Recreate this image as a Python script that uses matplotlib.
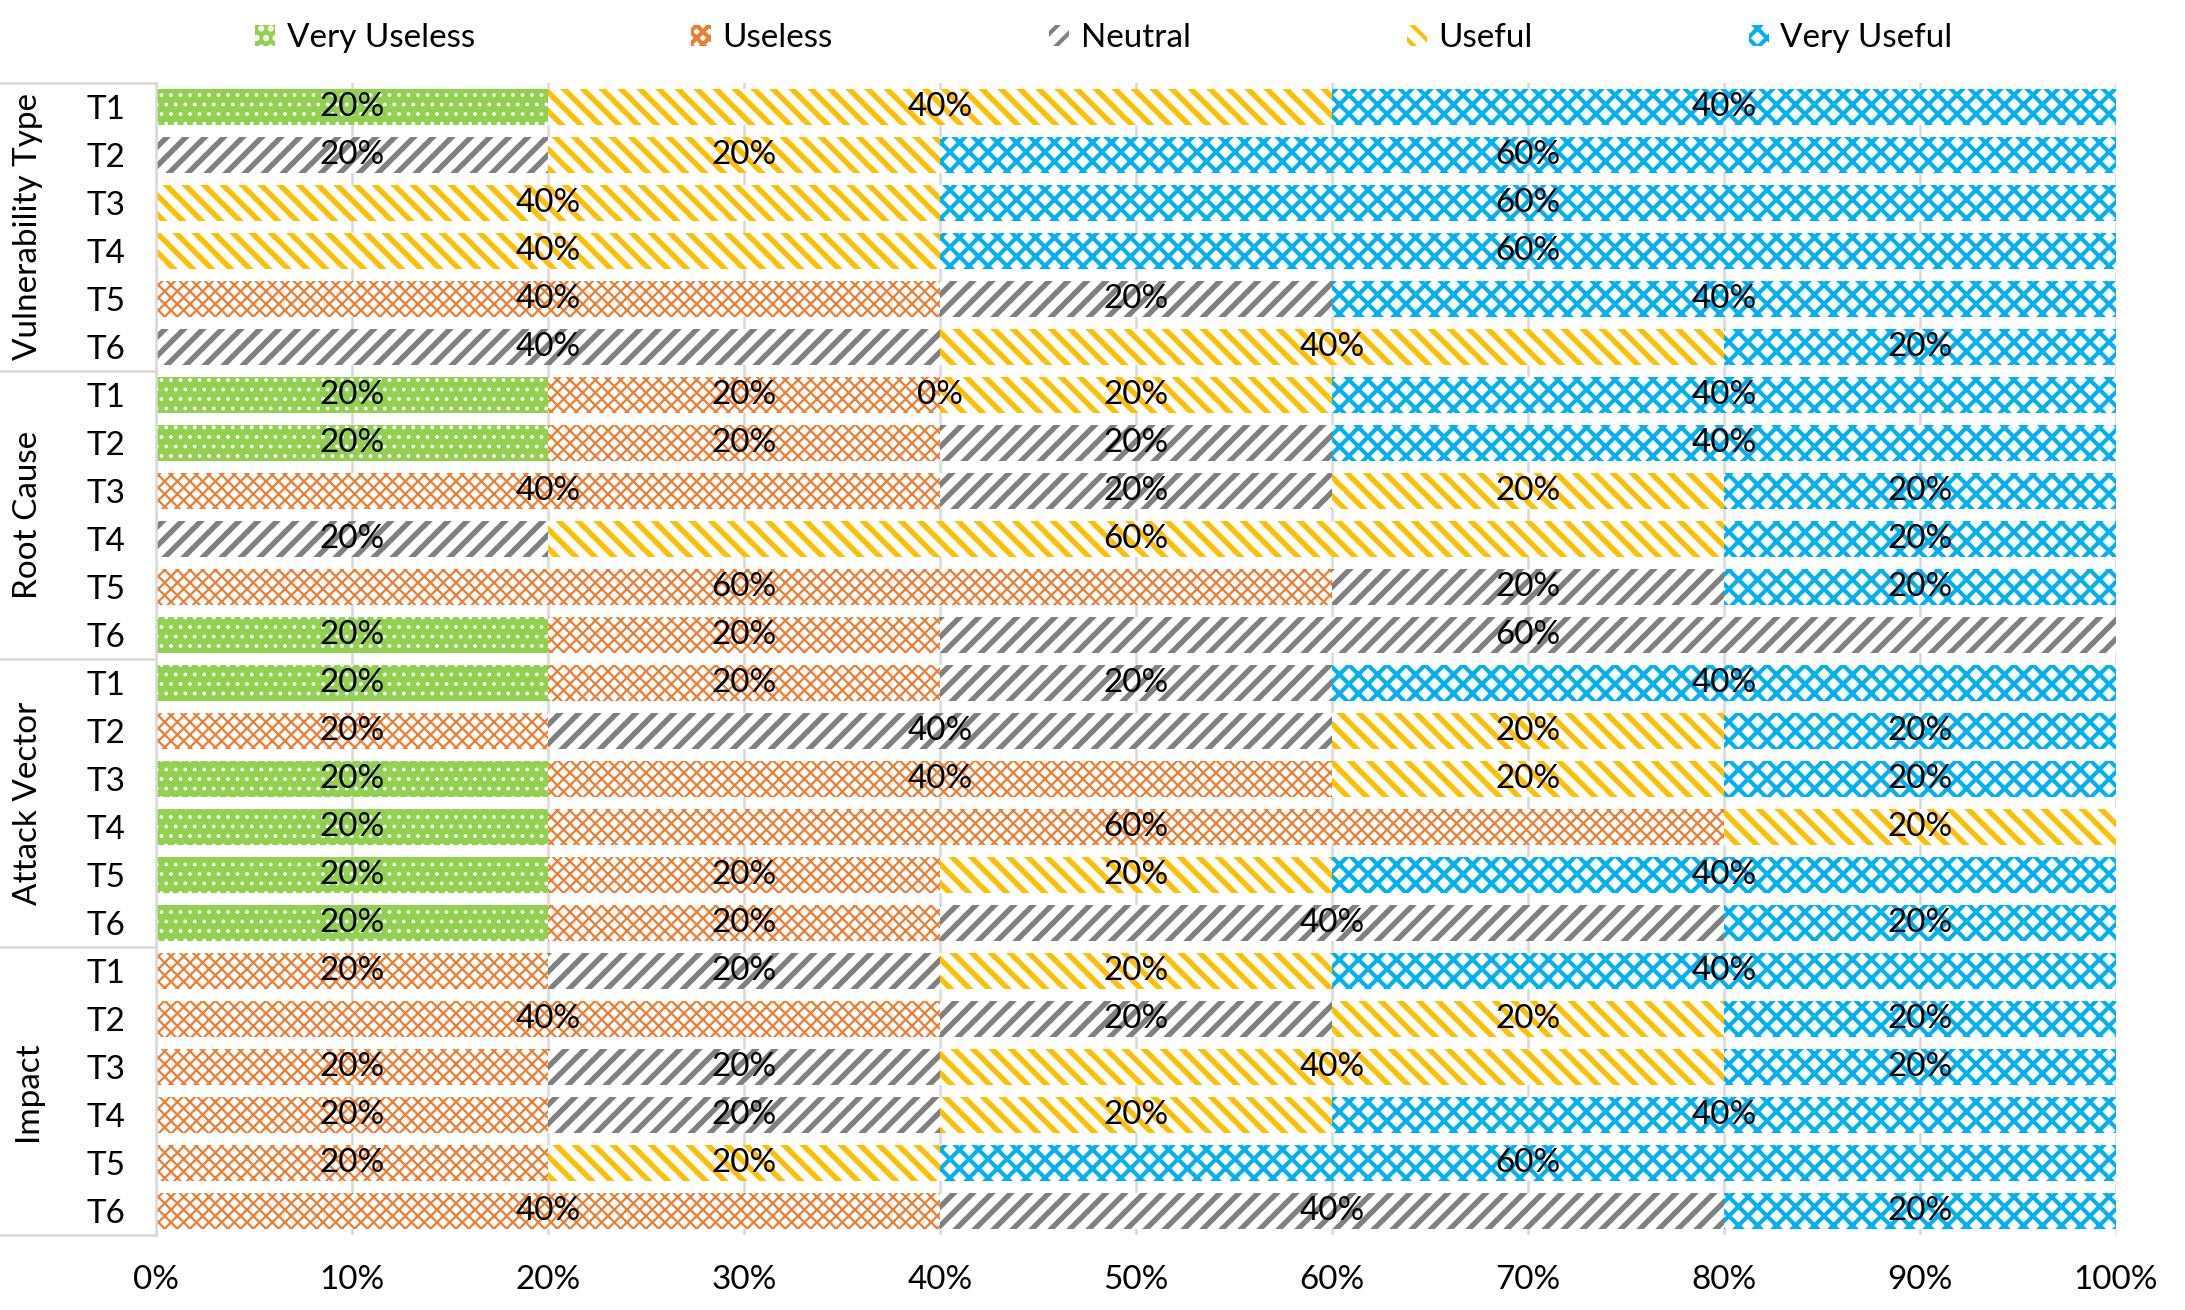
import matplotlib
matplotlib.use("Agg")
import matplotlib.pyplot as plt
import numpy as np

plt.rcParams['font.family'] = ['Lato', 'DejaVu Sans']

# ---- data ----
groups = ["Vulnerability Type", "Root Cause", "Attack Vector", "Impact"]
tasks = ["T1", "T2", "T3", "T4", "T5", "T6"]
series = ["Very Useless", "Useless", "Neutral", "Useful", "Very Useful"]

# rows top-to-bottom; None = empty cell (no label), 0 = explicit zero
very_useless = [20, None, None, None, None, None,
                20, 20, None, None, None, 20,
                20, None, 20, 20, 20, 20,
                None, None, None, None, None, None]
useless = [None, None, None, None, 40, None,
           20, 20, 40, None, 60, 20,
           20, 20, 40, 60, 20, 20,
           20, 40, 20, 20, 20, 40]
neutral = [None, 20, None, None, 20, 40,
           0, 20, 20, 20, 20, 60,
           20, 40, None, None, None, 40,
           20, 20, 20, 20, None, 40]
useful = [40, 20, 40, 40, None, 40,
          20, None, 20, 60, None, None,
          None, 20, 20, 20, 20, None,
          20, 20, 40, 20, 20, None]
very_useful = [40, 60, 60, 60, 40, 20,
               40, 40, 20, 20, 20, None,
               40, 20, 20, None, 40, 20,
               40, 20, 20, 40, 60, 20]

values = [very_useless, useless, neutral, useful, very_useful]
# (facecolor, hatchcolor, hatch, hatch linewidth)
styles = [
    ("#92D050", "white", "..", 1.2),
    ("white", "#ED7D31", "xxx", 1.4),
    ("white", "#808080", "//", 3.4),
    ("white", "#FFC000", "\\\\", 3.4),
    ("white", "#00B0F0", "xx", 2.6),
]
xticks = [0, 10, 20, 30, 40, 50, 60, 70, 80, 90, 100]

DPI = 114
W, H = 2185, 1310
fig = plt.figure(figsize=(W / DPI, H / DPI), dpi=DPI)
L, R, T, B = 156, 2116, 83, 1235
ax = fig.add_axes([L / W, 1 - B / H, (R - L) / W, (B - T) / H])

nrows = len(groups) * len(tasks)
y = np.arange(nrows)
left = np.zeros(nrows)
FS = 21
for i, (name, vals) in enumerate(zip(series, values)):
    fc, hc, hatch, hlw = styles[i]
    widths = np.array([0 if v is None else v for v in vals], dtype=float) / 100.0
    plt.rcParams['hatch.linewidth'] = hlw
    cont = ax.barh(y, widths, left=left, height=0.75, color=fc, edgecolor=hc,
                   hatch=hatch, linewidth=0, label=name, zorder=2)
    for p in cont.patches:
        if hasattr(p, "set_hatch_linewidth"):
            p.set_hatch_linewidth(hlw)
    labels = ["" if v is None else f"{v}%" for v in vals]
    ax.bar_label(cont, labels=labels, label_type='center', fontsize=FS,
                 color='black', zorder=5)
    left = left + widths

ax.set_xlim(0, 1)
ax.set_ylim(nrows - 0.5, -0.5)
ax.set_xticks(np.array(xticks) / 100.0)
ax.set_xticklabels([f"{t}%" for t in xticks], fontsize=FS)
ax.tick_params(axis='x', length=0, pad=19)
ax.set_yticks(y)
ax.set_yticklabels(tasks * len(groups), fontsize=FS)
pad_pts = (L - 106) * 72 / DPI
ax.tick_params(axis='y', length=0, pad=pad_pts)
for lab in ax.get_yticklabels():
    lab.set_horizontalalignment('center')

ax.grid(axis='x', color='#D9D9D9', linewidth=1.6, zorder=0)
ax.grid(axis='y', visible=False)
ax.set_axisbelow(True)
for s in ['top', 'right', 'bottom']:
    ax.spines[s].set_visible(False)
ax.spines['left'].set_color('#D9D9D9')
ax.spines['left'].set_linewidth(1.6)

# multi-level category axis separators and group labels
trans = ax.get_yaxis_transform()
xl = -L / (R - L)
n = len(tasks)
for g in range(len(groups) + 1):
    yy = g * n - 0.5
    ax.plot([xl, 0], [yy, yy], color='#D9D9D9', linewidth=1.6,
            transform=trans, clip_on=False)
for g, name in enumerate(groups):
    ax.text((28 - L) / (R - L), g * n + (n - 1) / 2, name, rotation=90,
            ha='center', va='center', fontsize=FS, transform=trans)

fig.legend(loc='center', bbox_to_anchor=(1104 / W, 1 - 38 / H), ncol=5,
           frameon=False, fontsize=FS, columnspacing=6.5, handletextpad=0.35,
           handlelength=0.6, handleheight=0.6)

fig.savefig("out.png", dpi=DPI)
